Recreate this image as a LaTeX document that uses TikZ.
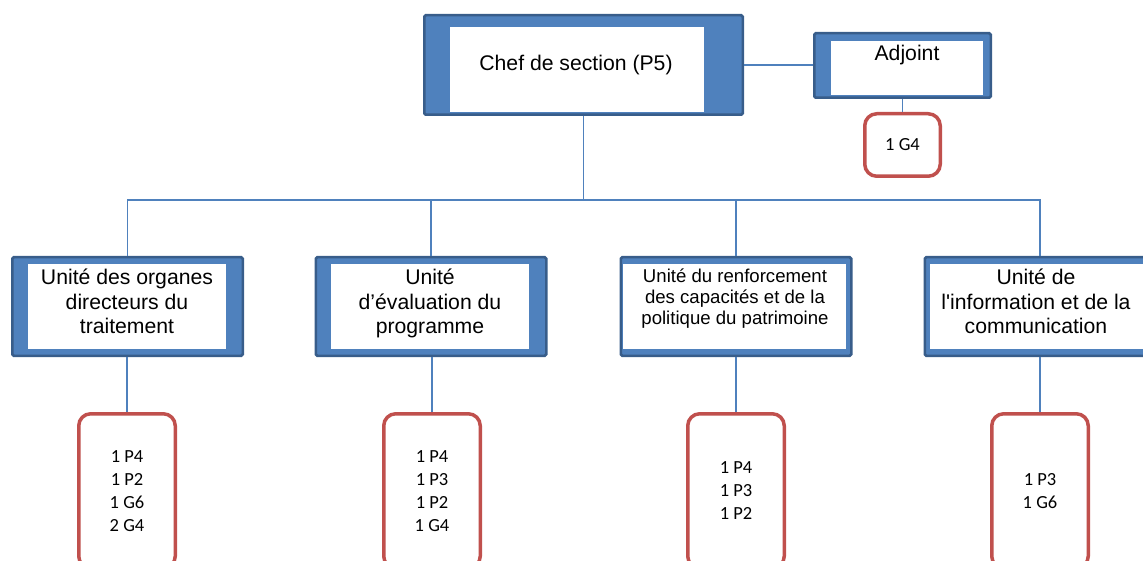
\documentclass[tikz,border=0pt]{standalone}
\usepackage{fontspec}
\setmainfont{Liberation Sans}
\newfontfamily\arial{Liberation Sans}
\newfontfamily\calibri{Carlito}

\definecolor{boxblue}{HTML}{4F81BD}
\definecolor{frameline}{HTML}{385D8A}
\definecolor{staffred}{HTML}{C0504D}

\begin{document}
\begin{tikzpicture}[x=1pt, y=-1pt,
    frame/.style={draw=frameline, line width=2.5pt, fill=boxblue,
                  rounded corners=1.5pt, inner sep=0pt},
    whitebox/.style={fill=white, inner sep=0pt},
    boxtext/.style={inner sep=0pt, font=\arial\fontsize{21.2}{24.5}\selectfont},
    unitlabel/.style={boxtext, anchor=north, align=center},
    staff/.style={draw=staffred, line width=3.5pt, fill=white,
                  rounded corners=12pt, align=center, inner sep=0pt,
                  minimum width=96.5pt, minimum height=154.5pt,
                  font=\calibri\fontsize{18.5}{23}\selectfont},
    link/.style={draw=boxblue, line width=1.9pt}]
    \useasboundingbox (0,0) rectangle (1143,561);

    % chef de section and adjoint
    \node[frame, minimum width=318.5pt, minimum height=99.5pt] (chef) at (583.5,65) {};
    \node[whitebox, minimum width=254pt, minimum height=85pt] (chef-w) at (577,69.5) {};
    \node[boxtext, anchor=base] (chef-t) at (576,70.5) {Chef de section (P5)};

    \node[frame, minimum width=176.5pt, minimum height=64.5pt] (adj) at (902.5,65.5) {};
    \node[whitebox, minimum width=152pt, minimum height=54pt] (adj-w) at (907,68) {};
    \node[boxtext, anchor=base] (adj-t) at (907,61) {Adjoint};
    \node[staff, minimum width=75.5pt, minimum height=62.5pt] (adj-s) at (902.5,145) {1 G4};

    \draw[link] (chef.east) -- (chef.east -| adj.west);
    \draw[link] (adj.south) -- (adj-s.north);

    % the four units
    \foreach \u/\x/\wx/\ww/\sx/\staff in {
            org/127.5/127/198pt/127/{1 P4\\1 P2\\1 G6\\2 G4},
            eval/431/430/198pt/432/{1 P4\\1 P3\\1 P2\\1 G4},
            caps/736/734.5/223pt/736/{1 P4\\1 P3\\1 P2},
            info/1040/1040/220pt/1040/{1 P3\\1 G6}} {
        \node[frame, minimum width=230.5pt, minimum height=98.5pt] (\u) at (\x,306.5) {};
        \node[whitebox, minimum width=\ww, minimum height=85pt] (\u-w) at (\wx,306.5) {};
        \node[staff] (\u-s) at (\sx,491) {\staff};
        \draw[link] (\u-s.north |- \u.south) -- (\u-s.north);
    }

    \node[unitlabel] (org-t) at (127,267.5) {\strut Unité des organes\\directeurs du\\traitement};
    \node[unitlabel] (eval-t) at (430,267.5) {\strut Unité\\d’évaluation du\\programme};
    \node[unitlabel, font=\arial\fontsize{18.6}{21}\selectfont] (caps-t) at (735,268)
        {\strut Unité du renforcement\\des capacités et de la\\politique du patrimoine};
    \node[unitlabel] (info-t) at (1036,267.5) {\strut Unité de\\l'information et de la\\communication};

    % bus
    \coordinate (bus) at (583.5,200);
    \draw[link] (chef.south) -- (bus);
    \draw[link] (org.north) |- (bus) -| (info.north);
    \draw[link] (eval.north) -- (eval.north |- bus);
    \draw[link] (caps.north) -- (caps.north |- bus);
\end{tikzpicture}
\end{document}
